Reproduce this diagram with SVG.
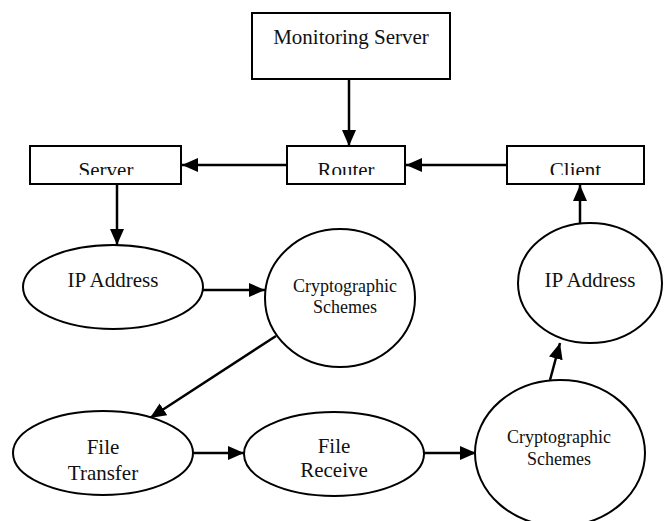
<svg xmlns="http://www.w3.org/2000/svg" width="664" height="521" viewBox="0 0 664 521">
  <style>
    .box { fill: #fff; stroke: #000; stroke-width: 2; }
    .node { fill: #fff; stroke: #000; stroke-width: 2; }
    .lbl { font-family: "Liberation Serif", "Times New Roman", serif; font-size: 21px; fill: #111; text-anchor: middle; }
    .sm { font-size: 18px; }
    .edge { stroke: #000; stroke-width: 2.5; fill: none; marker-end: url(#head); }
  </style>
  <defs>
    <marker id="head" markerUnits="userSpaceOnUse" markerWidth="17" markerHeight="15" refX="16" refY="7" orient="auto">
      <path d="M0,0 L16,7 L0,14 z" fill="#000"/>
    </marker>
    <!-- box labels are cut along their lower edge -->
    <clipPath id="rowClip"><rect x="0" y="140" width="664" height="35"/></clipPath>
    <clipPath id="ftClip"><rect x="0" y="430" width="300" height="50"/></clipPath>
  </defs>
  <rect width="664" height="521" fill="#fff"/>

  <g id="connectors">
    <line class="edge" x1="349" y1="80" x2="349" y2="146"/>
    <line class="edge" x1="287" y1="165" x2="182" y2="165"/>
    <line class="edge" x1="507" y1="165" x2="406" y2="165"/>
    <line class="edge" x1="117" y1="185" x2="117" y2="245"/>
    <line class="edge" x1="203" y1="290" x2="265" y2="290"/>
    <line class="edge" x1="276" y1="336" x2="150" y2="418"/>
    <line class="edge" x1="193" y1="453" x2="244" y2="453"/>
    <line class="edge" x1="424" y1="453" x2="476" y2="453"/>
    <line class="edge" x1="550" y1="380" x2="560" y2="343"/>
    <line class="edge" x1="580" y1="223" x2="580" y2="185"/>
  </g>

  <g id="monitoring-server">
    <rect class="box" x="252" y="13" width="198" height="66"/>
    <text class="lbl" x="351" y="44">Monitoring Server</text>
  </g>
  <g id="server">
    <rect class="box" x="30" y="146" width="151" height="38"/>
    <text class="lbl" x="106" y="177" clip-path="url(#rowClip)">Server</text>
  </g>
  <g id="router">
    <rect class="box" x="287" y="146" width="118" height="38"/>
    <text class="lbl" x="346" y="177" clip-path="url(#rowClip)">Router</text>
  </g>
  <g id="client">
    <rect class="box" x="507" y="146" width="137" height="38"/>
    <text class="lbl" x="575.5" y="177" clip-path="url(#rowClip)">Client</text>
  </g>
  <g id="ip-address-1">
    <ellipse class="node" cx="113" cy="287" rx="90" ry="42"/>
    <text class="lbl" x="113" y="287">IP Address</text>
  </g>
  <g id="crypto-1">
    <ellipse class="node" cx="340" cy="298" rx="75" ry="69"/>
    <text class="lbl sm" x="345" y="292">Cryptographic</text>
    <text class="lbl sm" x="345" y="313">Schemes</text>
  </g>
  <g id="file-transfer">
    <ellipse class="node" cx="103" cy="453" rx="90" ry="42"/>
    <text class="lbl" x="103" y="454">File</text>
    <text class="lbl" x="103" y="480" clip-path="url(#ftClip)">Transfer</text>
  </g>
  <g id="file-receive">
    <ellipse class="node" cx="334" cy="454" rx="90" ry="42"/>
    <text class="lbl" x="334" y="453">File</text>
    <text class="lbl" x="334" y="477">Receive</text>
  </g>
  <g id="crypto-2">
    <ellipse class="node" cx="560" cy="453" rx="85" ry="73"/>
    <text class="lbl sm" x="559" y="443">Cryptographic</text>
    <text class="lbl sm" x="559" y="465">Schemes</text>
  </g>
  <g id="ip-address-2">
    <ellipse class="node" cx="590" cy="283" rx="72" ry="60"/>
    <text class="lbl" x="590" y="287">IP Address</text>
  </g>
</svg>
